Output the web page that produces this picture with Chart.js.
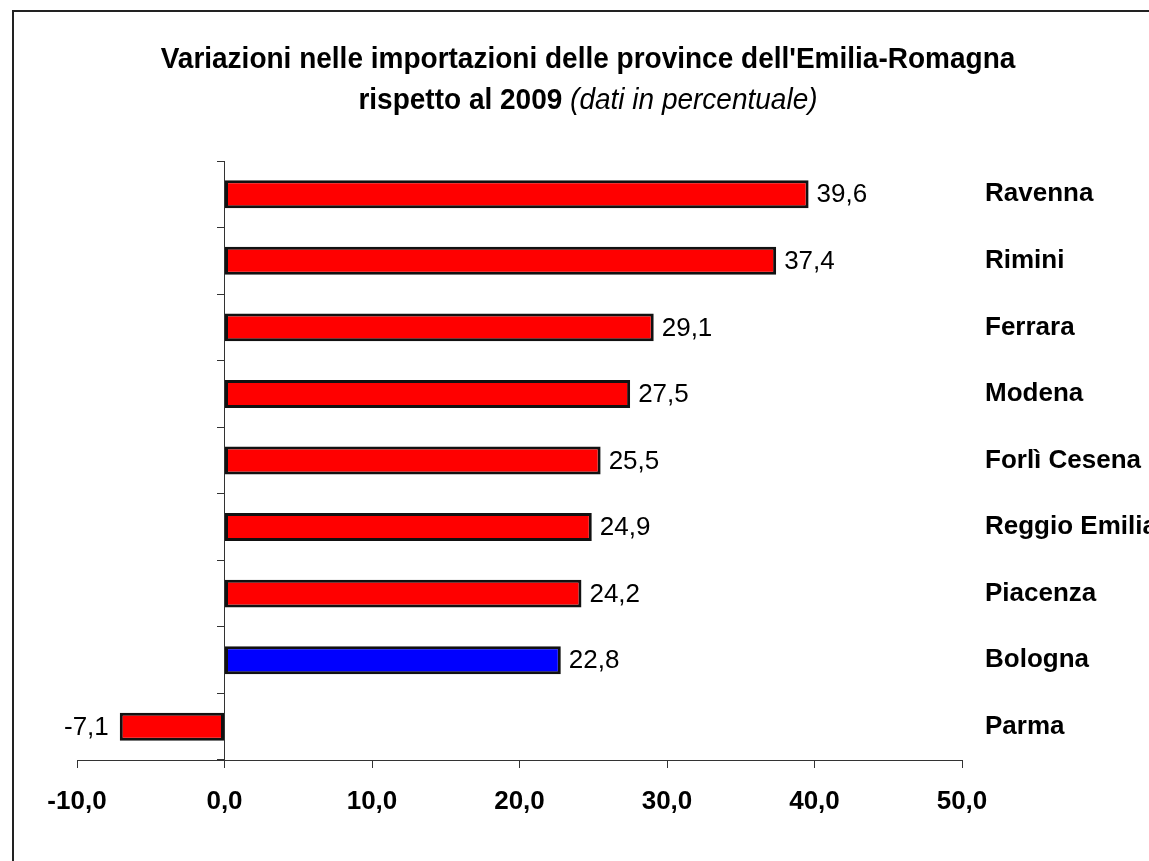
<!DOCTYPE html>
<html>
<head>
<meta charset="utf-8">
<title>Importazioni Emilia-Romagna</title>
<script src="https://cdn.jsdelivr.net/npm/chart.js@4.4.1/dist/chart.umd.min.js"></script>
<style>
body { margin:0; background:#fff; overflow:hidden; }
#wrap { position:relative; width:1149px; height:861px; overflow:hidden; }
#frame { position:absolute; left:12px; top:10px; width:1300px; height:1000px; border:2px solid #222; }
canvas { position:absolute; left:0; top:0; }
.title { position:absolute; left:0; width:1176px; text-align:center; font-family:"Liberation Sans", Arial, sans-serif;
  font-size:28px; line-height:41px; color:#000; white-space:nowrap; transform:scaleY(1.08); }
</style>
</head>
<body>
<div id="wrap">
  <div id="frame"></div>
  <canvas id="chart" width="1149" height="861"></canvas>
  <div class="title" style="top:37px;font-weight:bold">Variazioni nelle importazioni delle province dell'Emilia-Romagna</div>
  <div class="title" style="top:78px"><b>rispetto al 2009</b> <i>(dati in percentuale)</i></div>
</div>
<script>
// data
var provinces = ['Ravenna', 'Rimini', 'Ferrara', 'Modena', 'Forlì Cesena', 'Reggio Emilia', 'Piacenza', 'Bologna', 'Parma'];
var values = [39.6, 37.4, 29.1, 27.5, 25.5, 24.9, 24.2, 22.8, -7.1];
var barColors = ['#ff0000', '#ff0000', '#ff0000', '#ff0000', '#ff0000', '#ff0000', '#ff0000', '#0000ff', '#ff0000'];
var xTicks = [-10, 0, 10, 20, 30, 40, 50];

function fmt(v) {
    return Number(v).toFixed(1).replace('.', ',');
}

Chart.defaults.font.family = '"Liberation Sans", Arial, sans-serif';
Chart.defaults.color = '#000';

// numbers at the end of each bar
var valueLabels = {
    id: 'valueLabels',
    afterDatasetsDraw: function(chart) {
        var ctx = chart.ctx;
        var meta = chart.getDatasetMeta(0);
        ctx.save();
        ctx.font = '26px "Liberation Sans", Arial, sans-serif';
        ctx.fillStyle = '#000';
        ctx.textBaseline = 'middle';
        meta.data.forEach(function(bar, i) {
            var v = values[i];
            if (v < 0) {
                ctx.textAlign = 'right';
                ctx.fillText(fmt(v), bar.x - 11, bar.y + 1);
            } else {
                ctx.textAlign = 'left';
                ctx.fillText(fmt(v), bar.x + 8, bar.y + 1);
            }
        });
        ctx.restore();
    }
};

var chart = new Chart(document.getElementById('chart'), {
    type: 'bar',
    data: {
        labels: provinces,
        datasets: [{
            data: values,
            backgroundColor: barColors,
            borderColor: '#111',
            borderWidth: 3,
            borderSkipped: false,
            barPercentage: 0.42,
            categoryPercentage: 1
        }]
    },
    options: {
        indexAxis: 'y',
        responsive: false,
        animation: false,
        layout: { padding: { left: 77, top: 161, right: 0, bottom: 0 } },
        plugins: {
            legend: { display: false },
            tooltip: { enabled: false }
        },
        scales: {
            x: {
                type: 'linear',
                min: xTicks[0],
                max: xTicks[xTicks.length - 1],
                ticks: {
                    stepSize: 10,
                    callback: fmt,
                    font: { size: 26, weight: 'bold' },
                    color: '#000',
                    padding: 18,
                    maxRotation: 0
                },
                grid: { display: true, drawOnChartArea: false, drawTicks: true, tickLength: 8, color: '#333' },
                border: { display: true, color: '#333', width: 1 },
                afterFit: function(s) { s.height = 101; }
            },
            y: {
                type: 'category',
                position: { x: 0 },
                offset: true,
                ticks: { display: false },
                grid: { display: true, offset: true, drawOnChartArea: false, drawTicks: true, tickLength: 7, color: '#333' },
                border: { display: true, color: '#333', width: 1 }
            },
            y2: {
                type: 'category',
                position: 'right',
                offset: true,
                grid: { display: false, drawTicks: false },
                border: { display: false },
                ticks: {
                    padding: 23,
                    autoSkip: false,
                    font: { size: 26, weight: 'bold' },
                    color: '#000'
                },
                afterFit: function(s) { s.width = 187; }
            }
        }
    },
    plugins: [valueLabels]
});
</script>
</body>
</html>
